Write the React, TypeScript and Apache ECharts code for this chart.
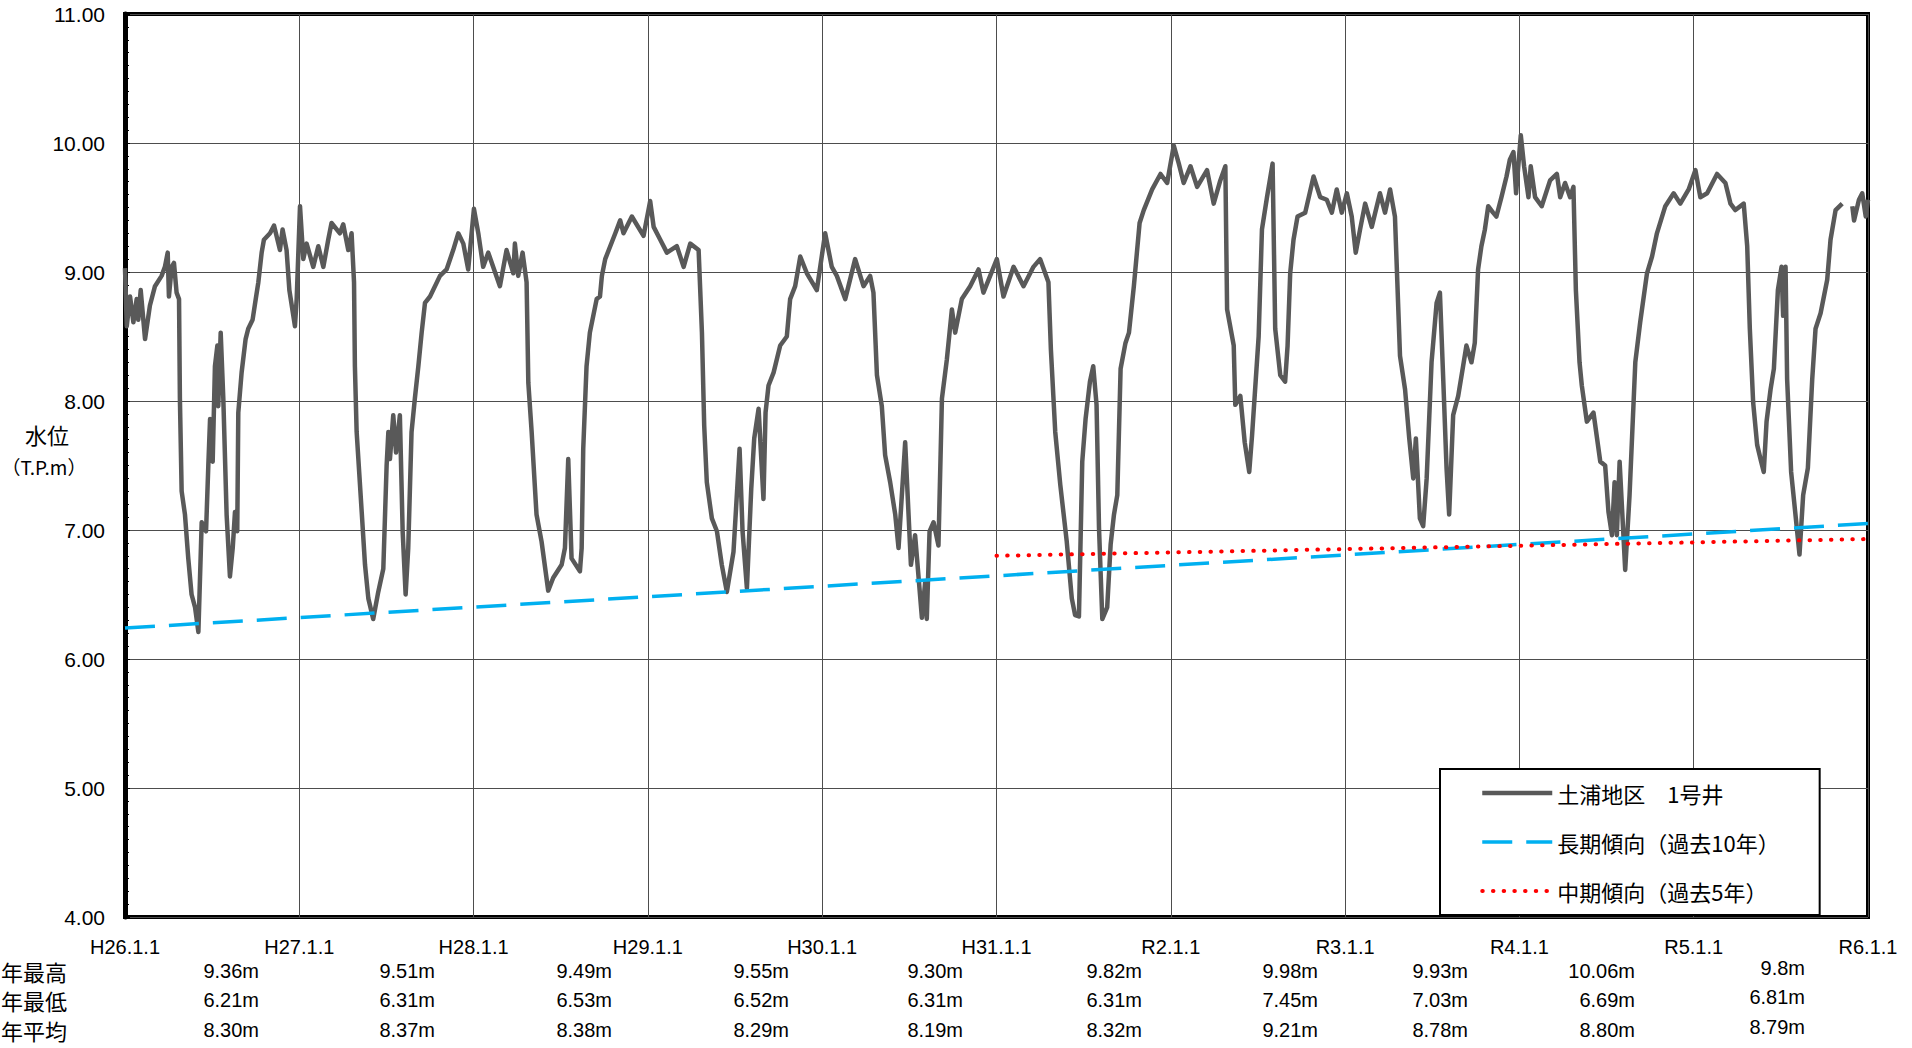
import React, { useEffect, useRef } from 'react';
import * as echarts from 'echarts';

// x-axis tick labels (one per year boundary)
const yearLabels = ['H26.1.1', 'H27.1.1', 'H28.1.1', 'H29.1.1', 'H30.1.1', 'H31.1.1', 'R2.1.1', 'R3.1.1', 'R4.1.1', 'R5.1.1', 'R6.1.1'];

// annual statistics table
const rowLabels = ['年最高', '年最低', '年平均'];
const annualMax = ['9.36m', '9.51m', '9.49m', '9.55m', '9.30m', '9.82m', '9.98m', '9.93m', '10.06m', '9.8m'];
const annualMin = ['6.21m', '6.31m', '6.53m', '6.52m', '6.31m', '6.31m', '7.45m', '7.03m', '6.69m', '6.81m'];
const annualMean = ['8.30m', '8.37m', '8.38m', '8.29m', '8.19m', '8.32m', '9.21m', '8.78m', '8.80m', '8.79m'];

const seriesNames = ['土浦地区　1号井', '長期傾向（過去10年）', '中期傾向（過去5年）'];

// [years elapsed since H26.1.1, water level T.P.m]
const waterLevel: [number, number | string][] = [
  [0.000, 9.03], [0.010, 8.58], [0.029, 8.81], [0.048, 8.61], [0.067, 8.79], [0.076, 8.63], [0.090, 8.86],
  [0.115, 8.48], [0.143, 8.74], [0.172, 8.89], [0.210, 8.97], [0.229, 9.04], [0.245, 9.15], [0.252, 8.81],
  [0.268, 9.04], [0.281, 9.07], [0.296, 8.84], [0.310, 8.79], [0.315, 8.02], [0.325, 7.30], [0.344, 7.12],
  [0.363, 6.78], [0.382, 6.50], [0.402, 6.40], [0.421, 6.21], [0.440, 7.06], [0.465, 6.99], [0.478, 7.50],
  [0.488, 7.86], [0.503, 7.53], [0.516, 8.27], [0.530, 8.43], [0.535, 7.96], [0.549, 8.53], [0.564, 8.02],
  [0.583, 7.12], [0.602, 6.64], [0.618, 6.86], [0.631, 7.14], [0.644, 6.99], [0.650, 7.91], [0.669, 8.22],
  [0.692, 8.48], [0.707, 8.56], [0.732, 8.63], [0.750, 8.79], [0.765, 8.92], [0.784, 9.15], [0.797, 9.25],
  [0.832, 9.30], [0.855, 9.36], [0.889, 9.17], [0.904, 9.33], [0.927, 9.17], [0.943, 8.86], [0.975, 8.58],
  [0.985, 8.79],
  [1.004, 9.51], [1.023, 9.10], [1.042, 9.22], [1.080, 9.04], [1.109, 9.20], [1.138, 9.04], [1.166, 9.25],
  [1.185, 9.38], [1.233, 9.30], [1.252, 9.37], [1.281, 9.17], [1.300, 9.30], [1.314, 8.92], [1.319, 8.27],
  [1.329, 7.76], [1.358, 7.14], [1.377, 6.73], [1.396, 6.47], [1.424, 6.31], [1.453, 6.52], [1.482, 6.70],
  [1.501, 7.50], [1.511, 7.76], [1.520, 7.55], [1.539, 7.89], [1.555, 7.60], [1.577, 7.89], [1.593, 6.99],
  [1.610, 6.50], [1.625, 6.86], [1.644, 7.76], [1.663, 8.02], [1.683, 8.27], [1.702, 8.53], [1.721, 8.76],
  [1.750, 8.81], [1.807, 8.97], [1.845, 9.02], [1.883, 9.17], [1.912, 9.30], [1.941, 9.22], [1.969, 9.02],
  [2.002, 9.49], [2.027, 9.30], [2.055, 9.04], [2.084, 9.15], [2.151, 8.89], [2.189, 9.17], [2.228, 8.99],
  [2.237, 9.22], [2.256, 8.97], [2.281, 9.15], [2.304, 8.92], [2.314, 8.14], [2.333, 7.76], [2.361, 7.12],
  [2.390, 6.91], [2.428, 6.53], [2.457, 6.63], [2.505, 6.73], [2.524, 6.86], [2.543, 7.55], [2.562, 6.78],
  [2.610, 6.68], [2.620, 6.86], [2.629, 7.63], [2.648, 8.27], [2.667, 8.53], [2.706, 8.79], [2.725, 8.81],
  [2.736, 8.97], [2.755, 9.10], [2.813, 9.30], [2.841, 9.40], [2.860, 9.30], [2.908, 9.43], [2.975, 9.28],
  [3.013, 9.55], [3.033, 9.35], [3.071, 9.25], [3.109, 9.15], [3.166, 9.20], [3.205, 9.04], [3.243, 9.22],
  [3.291, 9.17], [3.310, 8.53], [3.323, 7.81], [3.338, 7.37], [3.367, 7.09], [3.396, 6.99], [3.424, 6.73],
  [3.453, 6.52], [3.491, 6.83], [3.526, 7.63], [3.543, 6.99], [3.568, 6.55], [3.593, 7.32], [3.610, 7.71],
  [3.635, 7.94], [3.663, 7.24], [3.675, 7.91], [3.692, 8.12], [3.721, 8.22], [3.759, 8.43], [3.797, 8.50],
  [3.816, 8.79], [3.845, 8.89], [3.874, 9.12], [3.912, 8.99], [3.969, 8.86],
  [4.017, 9.30], [4.055, 9.04], [4.084, 8.97], [4.132, 8.79], [4.189, 9.10], [4.237, 8.89], [4.275, 8.97],
  [4.294, 8.84], [4.314, 8.20], [4.342, 7.96], [4.361, 7.58], [4.390, 7.37], [4.419, 7.12], [4.438, 6.86],
  [4.476, 7.68], [4.509, 6.73], [4.533, 6.96], [4.572, 6.32], [4.591, 6.60], [4.600, 6.31], [4.616, 6.99],
  [4.639, 7.06], [4.667, 6.88], [4.687, 8.02], [4.715, 8.32], [4.744, 8.71], [4.763, 8.53], [4.801, 8.79],
  [4.849, 8.89], [4.897, 9.02], [4.925, 8.84],
  [5.002, 9.10], [5.040, 8.81], [5.098, 9.04], [5.155, 8.89], [5.212, 9.04], [5.250, 9.10], [5.298, 8.92],
  [5.312, 8.40], [5.337, 7.76], [5.366, 7.35], [5.403, 6.91], [5.432, 6.47], [5.451, 6.34], [5.473, 6.33],
  [5.492, 7.53], [5.511, 7.86], [5.536, 8.15], [5.555, 8.27], [5.574, 7.97], [5.588, 7.02], [5.607, 6.31],
  [5.635, 6.40], [5.655, 6.89], [5.674, 7.12], [5.693, 7.27], [5.712, 8.25], [5.740, 8.45], [5.760, 8.53],
  [5.788, 8.89], [5.821, 9.38], [5.845, 9.48], [5.893, 9.64], [5.941, 9.76], [5.979, 9.69],
  [6.017, 9.98], [6.046, 9.84], [6.074, 9.69], [6.113, 9.82], [6.151, 9.66], [6.208, 9.79], [6.246, 9.53],
  [6.284, 9.71], [6.313, 9.82], [6.323, 8.71], [6.361, 8.43], [6.370, 7.97], [6.399, 8.04], [6.424, 7.68],
  [6.450, 7.45], [6.466, 7.73], [6.504, 8.50], [6.523, 9.33], [6.552, 9.58], [6.584, 9.84], [6.599, 8.56],
  [6.628, 8.20], [6.656, 8.15], [6.670, 8.43], [6.685, 8.99], [6.704, 9.25], [6.727, 9.43], [6.771, 9.46],
  [6.819, 9.74], [6.857, 9.58], [6.895, 9.56], [6.924, 9.46], [6.952, 9.64], [6.981, 9.46],
  [7.010, 9.61], [7.038, 9.43], [7.061, 9.15], [7.086, 9.33], [7.115, 9.53], [7.153, 9.35], [7.200, 9.61],
  [7.229, 9.46], [7.258, 9.64], [7.286, 9.43], [7.315, 8.35], [7.344, 8.09], [7.368, 7.71], [7.391, 7.40],
  [7.406, 7.71], [7.429, 7.09], [7.448, 7.03], [7.468, 7.40], [7.496, 8.30], [7.525, 8.76], [7.544, 8.84],
  [7.563, 8.17], [7.582, 7.48], [7.597, 7.12], [7.620, 7.89], [7.649, 8.04], [7.677, 8.27], [7.696, 8.43],
  [7.725, 8.30], [7.744, 8.45], [7.763, 9.02], [7.782, 9.20], [7.802, 9.33], [7.821, 9.51], [7.849, 9.46],
  [7.868, 9.43], [7.897, 9.58], [7.926, 9.74], [7.945, 9.87], [7.966, 9.93], [7.981, 9.61],
  [8.008, 10.06], [8.027, 9.82], [8.052, 9.58], [8.065, 9.82], [8.090, 9.58], [8.128, 9.51], [8.176, 9.71],
  [8.215, 9.76], [8.234, 9.58], [8.262, 9.69], [8.291, 9.58], [8.310, 9.66], [8.324, 8.86], [8.345, 8.30],
  [8.358, 8.12], [8.387, 7.84], [8.425, 7.91], [8.464, 7.53], [8.492, 7.50], [8.511, 7.14], [8.531, 6.96],
  [8.546, 7.37], [8.559, 6.96], [8.575, 7.53], [8.607, 6.69], [8.632, 7.27], [8.665, 8.30], [8.693, 8.61],
  [8.732, 8.99], [8.761, 9.12], [8.789, 9.30], [8.837, 9.51], [8.885, 9.61], [8.923, 9.53], [8.971, 9.64],
  [9.010, 9.79], [9.038, 9.58], [9.077, 9.61], [9.134, 9.76], [9.182, 9.69], [9.211, 9.53], [9.239, 9.48],
  [9.287, 9.53], [9.307, 9.20], [9.322, 8.56], [9.341, 7.99], [9.364, 7.66], [9.387, 7.53], [9.402, 7.45],
  [9.418, 7.84], [9.441, 8.09], [9.460, 8.25], [9.483, 8.86], [9.504, 9.04], [9.513, 8.66], [9.527, 9.04],
  [9.536, 8.17], [9.559, 7.45], [9.607, 6.81], [9.628, 7.27], [9.655, 7.48], [9.680, 8.17], [9.699, 8.56],
  [9.728, 8.68], [9.766, 8.94], [9.785, 9.25], [9.814, 9.48], [9.852, 9.53], [9.870, '-'],
  [9.910, 9.51], [9.920, 9.40], [9.948, 9.56], [9.967, 9.61], [9.987, 9.43], [10.000, 9.56],
];

// trend lines (start, end)
const longTrend: [number, number][] = [[0, 6.24], [10, 7.05]];
const midTrend: [number, number][] = [[5, 6.80], [10, 6.93]];

// table layout (pixels)
const tableRightEdge = [259, 435, 612, 789, 963, 1142, 1318, 1468, 1635, 1805];
const tableRowY = [971, 1000, 1030];

const LATIN = '"Liberation Sans", Arial, sans-serif';
const CJK = '"Noto Sans CJK JP", sans-serif';

const grayLine = { color: '#595959', width: 4.5, join: 'round' as const };
const blueLine = { color: '#00B0F0', width: 3.5, type: [30, 14] };
const redLine = { color: '#FF0000', width: 4, type: [0.5, 10.2], cap: 'round' as const };

export default function App() {
  const ref = useRef<HTMLDivElement>(null);
  useEffect(() => {
    document.body.style.margin = '0';
    document.body.style.overflow = 'hidden';
    const chart = echarts.init(ref.current!, null, { renderer: 'svg' });

    const graphics: any[] = [];
    rowLabels.forEach((t, i) => {
      graphics.push({
        type: 'text', x: 1, y: tableRowY[i],
        style: { text: t, fontSize: 22, fontFamily: CJK, fill: '#000', align: 'left', verticalAlign: 'middle' },
      });
    });
    [annualMax, annualMin, annualMean].forEach((row, r) => {
      row.forEach((t, c) => {
        graphics.push({
          type: 'text', x: tableRightEdge[c], y: tableRowY[r] - (c === 9 ? 3 : 0),
          style: { text: t, fontSize: 20, fontFamily: LATIN, fill: '#000', align: 'right', verticalAlign: 'middle' },
        });
      });
    });
    graphics.push({
      type: 'text', x: 47, y: 434,
      style: { text: '水位', fontSize: 22, fontFamily: CJK, fill: '#000', align: 'center', verticalAlign: 'middle' },
    });
    graphics.push({
      type: 'text', x: 44, y: 466,
      style: { text: '（T.P.m）', fontSize: 19, fontFamily: CJK, fill: '#000', align: 'center', verticalAlign: 'middle' },
    });

    chart.setOption({
      animation: false,
      backgroundColor: '#fff',
      grid: {
        left: 125, right: 44, top: 14, bottom: 131,
        show: true, borderColor: '#000', borderWidth: 4, backgroundColor: 'transparent',
      },
      legend: {
        left: 1440, top: 769, orient: 'vertical',
        backgroundColor: '#fff', borderColor: '#000', borderWidth: 2,
        padding: [11, 40, 11, 40],
        itemWidth: 70, itemHeight: 20, itemGap: 23,
        textStyle: { fontSize: 22, fontFamily: CJK, color: '#000', lineHeight: 26 },
        itemStyle: { opacity: 0 },
        data: [
          { name: seriesNames[0], lineStyle: grayLine, itemStyle: { opacity: 0 } },
          { name: seriesNames[1], lineStyle: blueLine, itemStyle: { opacity: 0 } },
          { name: seriesNames[2], lineStyle: redLine, itemStyle: { opacity: 0 } },
        ],
      },
      xAxis: {
        type: 'value', min: 0, max: 10, interval: 1,
        axisLine: { show: false },
        axisTick: { show: false },
        splitLine: { show: true, lineStyle: { color: '#4d4d4d', width: 1 } },
        axisLabel: {
          margin: 20, fontSize: 20, fontFamily: LATIN, color: '#000',
          showMinLabel: true, showMaxLabel: true, hideOverlap: false,
          formatter: (v: number) => yearLabels[Math.round(v)] ?? '',
        },
      },
      yAxis: {
        type: 'value', min: 4, max: 11, interval: 1,
        axisLine: { show: true, lineStyle: { color: '#000', width: 5 } },
        axisTick: { show: true, inside: true, length: 5, lineStyle: { color: '#000', width: 1 } },
        minorTick: { show: true, splitNumber: 10, length: 4, lineStyle: { color: '#000', width: 1 } },
        splitLine: { show: true, lineStyle: { color: '#4d4d4d', width: 1 } },
        axisLabel: {
          margin: 20, fontSize: 21, fontFamily: LATIN, color: '#000',
          formatter: (v: number) => v.toFixed(2),
        },
      },
      series: [
        {
          name: seriesNames[0], type: 'line', data: waterLevel, showSymbol: false, symbol: 'none',
          connectNulls: false, lineStyle: grayLine, itemStyle: { color: '#595959' }, z: 2,
        },
        {
          name: seriesNames[1], type: 'line', data: longTrend, showSymbol: false, symbol: 'none',
          lineStyle: blueLine, itemStyle: { color: '#00B0F0' }, z: 3,
        },
        {
          name: seriesNames[2], type: 'line', data: midTrend, showSymbol: false, symbol: 'none',
          lineStyle: redLine, itemStyle: { color: '#FF0000' }, z: 4,
        },
      ],
      graphic: graphics,
    });
    return () => chart.dispose();
  }, []);
  return <div ref={ref} style={{ width: 1912, height: 1048 }} />;
}
